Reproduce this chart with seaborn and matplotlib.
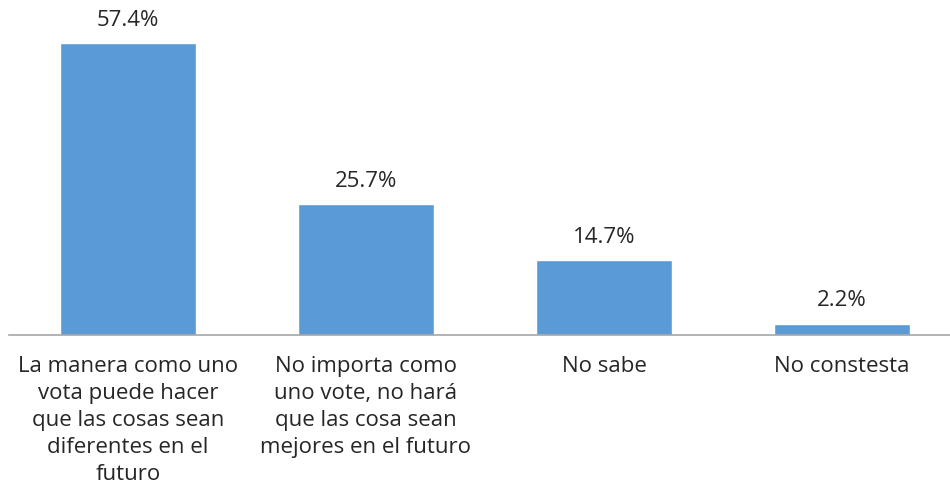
import matplotlib
matplotlib.use("Agg")
import matplotlib.pyplot as plt
import seaborn as sns
import pandas as pd

categories = [
    "La manera como uno\nvota puede hacer\nque las cosas sean\ndiferentes en el\nfuturo",
    "No importa como\nuno vote, no hará\nque las cosa sean\nmejores en el futuro",
    "No sabe",
    "No constesta",
]
values = [57.4, 25.7, 14.7, 2.2]
value_labels = ["57.4%", "25.7%", "14.7%", "2.2%"]

sns.set_theme(style="white")
plt.rcParams['font.family'] = ['Open Sans', 'DejaVu Sans']

df = pd.DataFrame({"cat": categories, "val": values})

fig = plt.figure(figsize=(9.5, 4.92), dpi=100)
ax = fig.add_axes([9/950, 157/492, 952/950, 305/492])
sns.barplot(data=df, x="cat", y="val", color="#5B9BD5", width=0.571, ax=ax, saturation=1)
ax.set_xlim(-0.5, 3.5)
ax.set_ylim(0, 60)
ax.set_xlabel("")
ax.set_ylabel("")
ax.set_yticks([])
for s in ["top", "right", "left"]:
    ax.spines[s].set_visible(False)
ax.spines["bottom"].set_color("#A6A6A6")
ax.spines["bottom"].set_linewidth(1.2)
ax.tick_params(axis="x", length=0, pad=15, labelsize=16, colors="#262626")
for lab in ax.get_xticklabels():
    lab.set_linespacing(1.37)
for i, (v, t) in enumerate(zip(values, value_labels)):
    ax.annotate(t, (i, v), xytext=(0, 9), textcoords="offset points",
                ha="center", va="bottom", fontsize=16, color="#262626")
fig.savefig("out.png", dpi=100)
